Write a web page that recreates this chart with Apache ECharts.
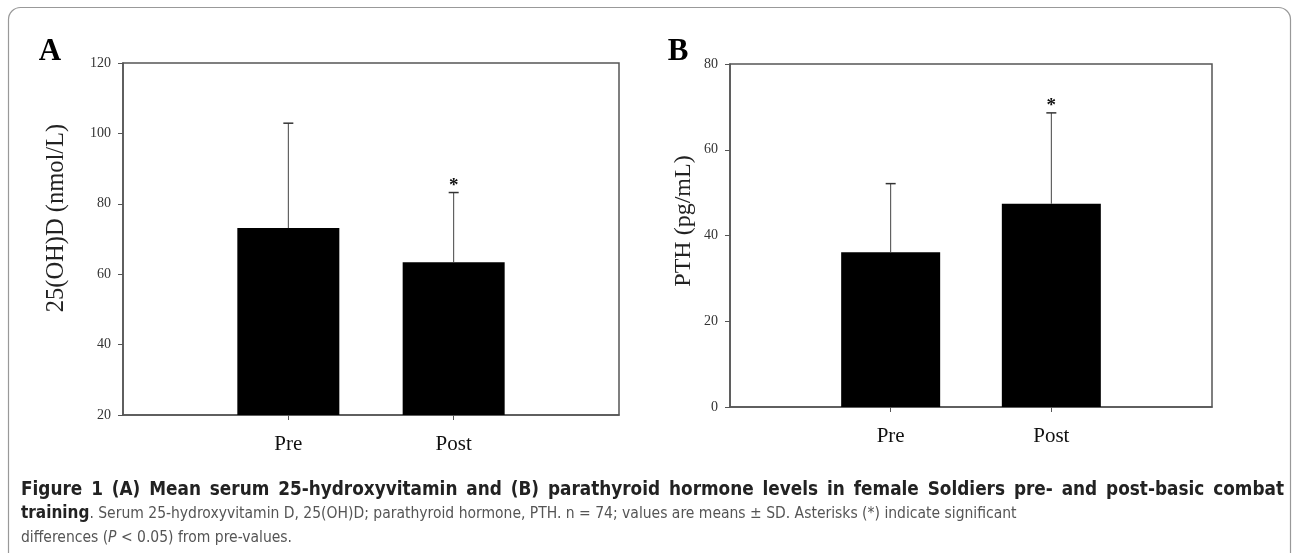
<!DOCTYPE html>
<html>
<head>
<meta charset="utf-8">
<script src="https://cdn.jsdelivr.net/npm/echarts@6/dist/echarts.min.js"></script>
<style>
  html, body { margin: 0; padding: 0; background: #fff; }
  #chart { width: 1292px; height: 553px; }
</style>
</head>
<body>
<div id="chart"></div>
<script>
// data
const categories = ['Pre', 'Post']
const vitDMean = [73.1, 63.4]      // 25(OH)D, nmol/L
const vitDSd = [29.8, 19.8]
const pthMean = [36.1, 47.4]       // PTH, pg/mL
const pthSd = [16.0, 21.2]
const significant = [0, 1]         // asterisk above Post

const serif = "'Liberation Serif', 'DejaVu Serif', serif"
const sans = "'Liberation Sans Narrow', 'DejaVu Sans Condensed', 'Open Sans', sans-serif"

const captionTitle = 'Figure 1 (A) Mean serum 25-hydroxyvitamin and (B) parathyroid hormone levels in female Soldiers pre- and post-basic combat'

// pad with empty slots so Pre / Post sit at 1/3 and 2/3 of the width
const xData = ['', ...categories, '']
const padded = arr => ['-', ...arr, '-']
const errData = (mean, sd) => mean.map((m, i) => [i + 1, m, sd[i], significant[i]])

function renderErr(params, api) {
  const x = api.value(0)
  const m = api.value(1)
  const sd = api.value(2)
  const sig = api.value(3)
  const base = api.coord([x, m])
  const top = api.coord([x, m + sd])
  const cap = 5
  const children = [
    { type: 'line', shape: { x1: base[0], y1: base[1], x2: top[0], y2: top[1] }, style: { stroke: '#444', lineWidth: 1 } },
    { type: 'line', shape: { x1: top[0] - cap, y1: top[1], x2: top[0] + cap, y2: top[1] }, style: { stroke: '#333', lineWidth: 1.5 } }
  ]
  if (sig) {
    children.push({
      type: 'text', x: top[0], y: top[1] + 3,
      style: { text: '*', fill: '#111', font: 'bold 19px ' + serif, align: 'center', verticalAlign: 'bottom' }
    })
  }
  return { type: 'group', children }
}

function xAxisFor(gridIndex) {
  return {
    type: 'category',
    gridIndex,
    data: xData,
    boundaryGap: false,
    axisLine: { lineStyle: { color: '#555', width: 1.5 } },
    axisTick: { show: true, length: 5, interval: (idx, val) => val !== '', lineStyle: { color: '#555' } },
    axisLabel: { interval: 0, margin: 19, color: '#111', fontSize: 21, fontFamily: serif },
    splitLine: { show: false }
  }
}

function yAxisFor(gridIndex, min, max) {
  return {
    type: 'value',
    gridIndex,
    min, max, interval: 20,
    axisLine: { show: true, lineStyle: { color: '#555', width: 1.5 } },
    axisTick: { show: true, length: 5, lineStyle: { color: '#555' } },
    axisLabel: { margin: 12, color: '#333', fontSize: 14, fontFamily: serif },
    splitLine: { show: false }
  }
}

// caption first line is justified between x0 and x1: lay out word by word
function justifiedLine(text, font, x0, x1, y, fill) {
  const ctx = document.createElement('canvas').getContext('2d')
  ctx.font = font
  const words = text.split(' ')
  const widths = words.map(w => ctx.measureText(w).width)
  const total = widths.reduce((a, b) => a + b, 0)
  const gap = (x1 - x0 - total) / (words.length - 1)
  let x = x0
  return words.map((w, i) => {
    const el = { type: 'text', x, y, style: { text: w, font, fill, verticalAlign: 'middle' } }
    x += widths[i] + gap
    return el
  })
}

const chart = echarts.init(document.getElementById('chart'))

const titleFont = 'bold 18.8px ' + sans

const option = {
  backgroundColor: '#fff',
  animation: false,
  grid: [
    { left: 123, top: 63, width: 496, height: 352, show: true, borderColor: '#555', borderWidth: 1.5, backgroundColor: 'transparent' },
    { left: 730, top: 64, width: 482, height: 343, show: true, borderColor: '#555', borderWidth: 1.5, backgroundColor: 'transparent' }
  ],
  xAxis: [xAxisFor(0), xAxisFor(1)],
  yAxis: [yAxisFor(0, 20, 120), yAxisFor(1, 0, 80)],
  series: [
    { type: 'bar', xAxisIndex: 0, yAxisIndex: 0, data: padded(vitDMean), barWidth: 102, itemStyle: { color: '#000' } },
    { type: 'custom', xAxisIndex: 0, yAxisIndex: 0, data: errData(vitDMean, vitDSd), renderItem: renderErr, z: 5 },
    { type: 'bar', xAxisIndex: 1, yAxisIndex: 1, data: padded(pthMean), barWidth: 99, itemStyle: { color: '#000' } },
    { type: 'custom', xAxisIndex: 1, yAxisIndex: 1, data: errData(pthMean, pthSd), renderItem: renderErr, z: 5 }
  ],
  graphic: [
    // outer rounded frame
    { type: 'rect', shape: { x: 8.5, y: 7.5, width: 1282, height: 600, r: 12 }, style: { fill: 'none', stroke: '#999', lineWidth: 1.2 }, z: 0 },
    // panel letters
    { type: 'text', x: 50, y: 52, style: { text: 'A', font: 'bold 31px ' + serif, fill: '#000', align: 'center', verticalAlign: 'middle' } },
    { type: 'text', x: 678, y: 52, style: { text: 'B', font: 'bold 31px ' + serif, fill: '#000', align: 'center', verticalAlign: 'middle' } },
    // axis titles
    { type: 'text', x: 57, y: 218, rotation: Math.PI / 2, style: { text: '25(OH)D (nmol/L)', font: '24.5px ' + serif, fill: '#222', align: 'center', verticalAlign: 'middle' } },
    { type: 'text', x: 684, y: 221, rotation: Math.PI / 2, style: { text: 'PTH (pg/mL)', font: '24px ' + serif, fill: '#222', align: 'center', verticalAlign: 'middle' } },
    // caption
    ...justifiedLine(captionTitle, titleFont, 21, 1284, 490, '#222'),
    {
      type: 'text', x: 21, y: 514,
      style: {
        text: '{b|training}. Serum 25-hydroxyvitamin D, 25(OH)D; parathyroid hormone, PTH. n = 74; values are means ± SD. Asterisks (*) indicate significant',
        font: '15.5px ' + sans, fill: '#555', verticalAlign: 'middle',
        rich: { b: { fontWeight: 'bold', fontSize: 17, fontFamily: sans, fill: '#222' } }
      }
    },
    {
      type: 'text', x: 21, y: 538,
      style: {
        text: 'differences ({i|P} < 0.05) from pre-values.',
        font: '15.5px ' + sans, fill: '#555', verticalAlign: 'middle',
        rich: { i: { fontStyle: 'italic', fontSize: 15.5, fontFamily: sans, fill: '#555' } }
      }
    }
  ]
}

chart.setOption(option)
</script>
</body>
</html>
